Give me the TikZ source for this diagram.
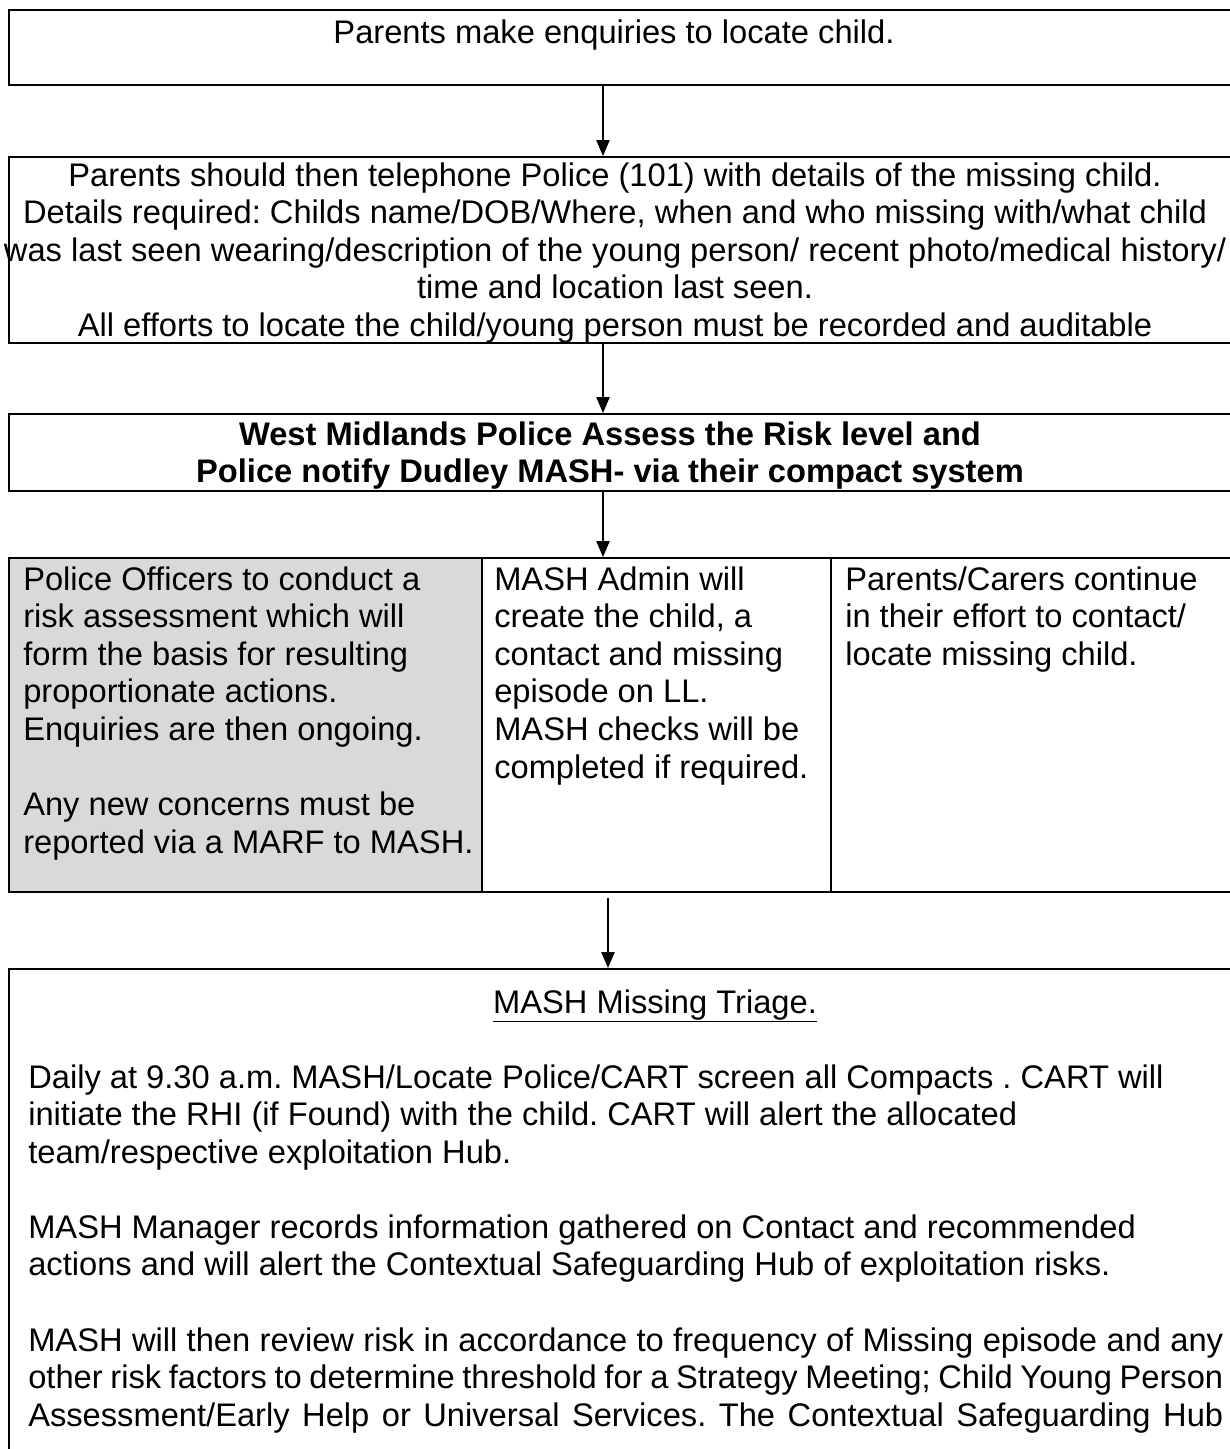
\documentclass[tikz,border=0pt]{standalone}
\usepackage{fontspec}
\setmainfont{Liberation Sans}
\usetikzlibrary{arrows.meta}
\definecolor{cellgray}{HTML}{D9D9D9}
\frenchspacing
\newcommand\mainfs{\fontsize{24.5pt}{28.2pt}\selectfont}
\newcommand\ctext[2]{\parbox[t]{#1}{\centering\mainfs #2}}
\newcommand\ltext[2]{\parbox[t]{#1}{\raggedright\mainfs #2}}
\begin{document}
\begin{tikzpicture}[x=0.75pt,y=-0.75pt,
  box/.style={draw, line width=1.8pt, inner sep=0pt, anchor=north west},
  arr/.style={-{Triangle[length=12pt,width=10pt]}, line width=0.9pt},
  txt/.style={inner sep=0pt, anchor=base}]
\useasboundingbox (0,0) rectangle (1230,1449);
\clip (0,0) rectangle (1230,1449);
% boxes
\node[box, minimum width=931.5pt, minimum height=56.25pt] (b1) at (8,9) {};
\node[box, minimum width=931.5pt, minimum height=139.5pt] (b2) at (8,156) {};
\node[box, minimum width=931.5pt, minimum height=57.75pt] (b3) at (8,413) {};
\node[box, fill=cellgray, minimum width=354.75pt, minimum height=250.5pt] (c1) at (8,557) {};
\node[box, minimum width=261.75pt, minimum height=250.5pt] (c2) at (481,557) {};
\node[box, minimum width=315pt, minimum height=250.5pt] (c3) at (830,557) {};
\node[box, minimum width=931.5pt, minimum height=376.5pt] (b5) at (8,968) {};
% arrows
\coordinate (ax) at (603,0);
\coordinate (ax2) at (608,0);
\draw[arr] (b1.south -| ax) -- (b2.north -| ax);
\draw[arr] (b2.south -| ax) -- (b3.north -| ax);
\draw[arr] (b3.south -| ax) -- (c2.north -| ax);
\draw[arr] ([yshift=-3.75pt]c2.south -| ax2) -- (b5.north -| ax2);
% texts
\node[txt] (t1) at (614,43) {\mainfs Parents make enquiries to locate child.};
\node[txt] (t2) at (615,186) {\ctext{930pt}{Parents should then telephone Police (101) with details of the missing child.\\
Details required: Childs name/DOB/Where, when and who missing with/what child\\
was last seen wearing/description of the young person/ recent photo/medical history/\\
time and location last seen.\\
All efforts to locate the child/young person must be recorded and auditable}};
\node[txt] (t3) at (610,445) {\ctext{930pt}{\bfseries West Midlands Police Assess the Risk level and\\
Police notify Dudley MASH- via their compact system}};
\node[txt, anchor=base west] (t4) at (23,590) {\ltext{340pt}{Police Officers to conduct a\\
risk assessment which will\\
form the basis for resulting\\
proportionate actions.\\
Enquiries are then ongoing.\\[28.2pt]
Any new concerns must be\\
reported via a MARF to MASH.}};
\node[txt, anchor=base west] (t5) at (494,590) {\ltext{250pt}{MASH Admin will\\
create the child, a\\
contact and missing\\
episode on LL.\\
MASH checks will be\\
completed if required.}};
\node[txt, anchor=base west] (t6) at (845,590) {\ltext{290pt}{Parents/Carers continue\\
in their effort to contact/\\
locate missing child.}};
\node[txt] (t7) at (655,1013) {\mainfs\underline{MASH Missing Triage.}};
\node[txt, anchor=base west] (t8) at (28,1088) {\ltext{900pt}{Daily at 9.30 a.m. MASH/Locate Police/CART screen all Compacts . CART will\\
initiate the RHI (if Found) with the child. CART will alert the allocated\\
team/respective exploitation Hub.}};
\node[txt, anchor=base west] (t9) at (28,1238) {\ltext{900pt}{MASH Manager records information gathered on Contact and recommended\\
actions and will alert the Contextual Safeguarding Hub of exploitation risks.}};
\node[txt, anchor=base west] (t10) at (28,1351) {\ltext{896.25pt}{\makebox[896.25pt][s]{MASH will then review risk in accordance to frequency of Missing episode and any}\\
\makebox[896.25pt][s]{other risk factors to determine threshold for a Strategy Meeting; Child Young Person}\\
\makebox[896.25pt][s]{Assessment/Early Help or Universal Services. The Contextual Safeguarding Hub}}};
\end{tikzpicture}
\end{document}
